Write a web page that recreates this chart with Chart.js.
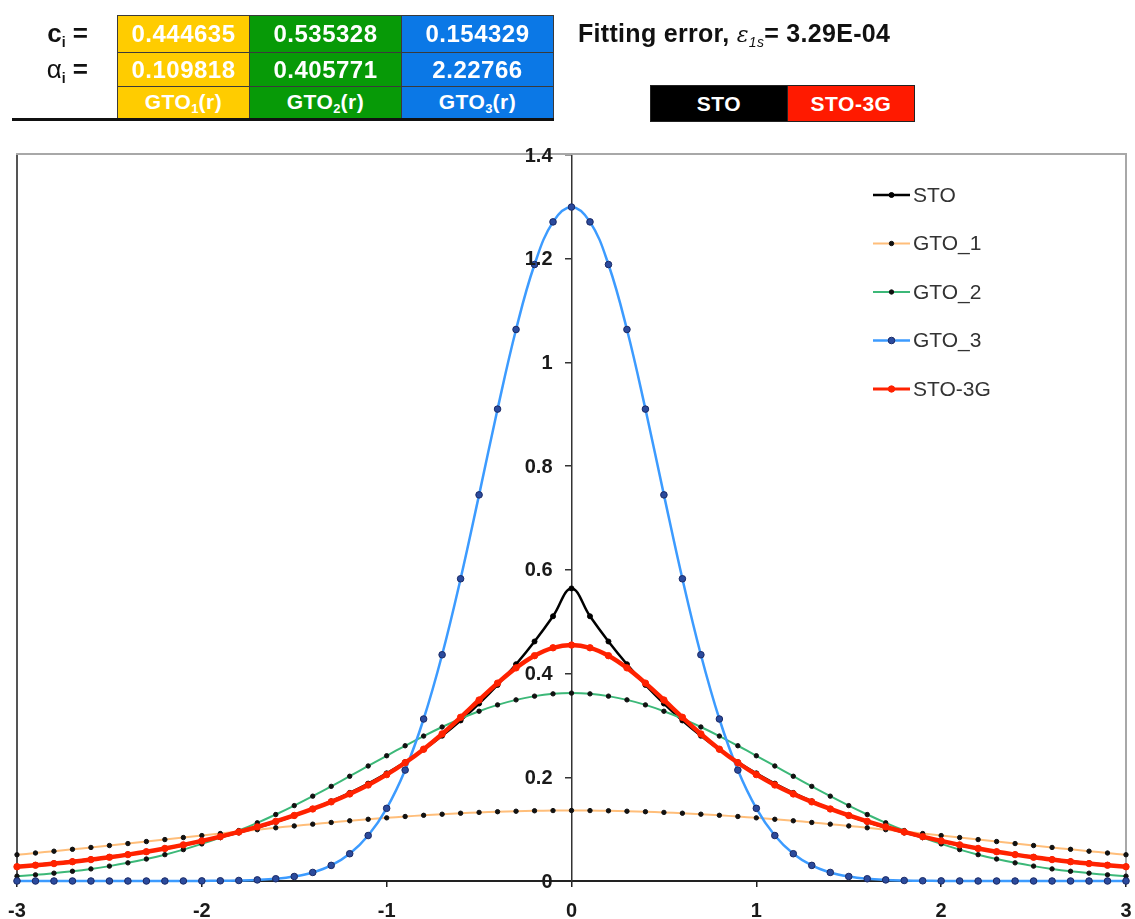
<!DOCTYPE html>
<html><head><meta charset="utf-8">
<script src="https://cdn.jsdelivr.net/npm/chart.js@4.4.1/dist/chart.umd.min.js"></script>
<style>
html,body{margin:0;padding:0;background:#fff;}
body{width:1135px;height:919px;position:relative;overflow:hidden;font-family:"Liberation Sans",Arial,sans-serif;}
#c{position:absolute;left:0;top:0;}
.hdr{position:absolute;z-index:2;}
.cell{position:absolute;z-index:2;color:#fff;font-weight:bold;font-size:24px;letter-spacing:0.5px;box-sizing:border-box;border:1px solid #3a3a3a;display:flex;align-items:center;justify-content:center;}
.cell sub{font-size:13px;vertical-align:-4px;letter-spacing:0;}
.lab{position:absolute;z-index:2;font-weight:bold;font-size:26px;color:#111;text-align:right;white-space:nowrap;}
.lab sub{font-size:14px;vertical-align:-5px;}
</style></head>
<body>
<canvas id="c" width="1135" height="919"></canvas>

<div class="lab" style="left:10px;top:15px;width:78px;height:37px;line-height:37px;">c<sub>i</sub> =</div>
<div class="lab" style="left:10px;top:52px;width:78px;height:34px;line-height:34px;"><span style="font-weight:normal">α</span><sub>i</sub> =</div>

<div class="cell" style="left:117px;top:15px;width:133px;height:38px;background:#FFCC00;"><span>0.444635</span></div>
<div class="cell" style="left:249px;top:15px;width:153px;height:38px;background:#079A07;"><span>0.535328</span></div>
<div class="cell" style="left:401px;top:15px;width:153px;height:38px;background:#0B78E6;"><span>0.154329</span></div>
<div class="cell" style="left:117px;top:52px;width:133px;height:35px;background:#FFCC00;"><span>0.109818</span></div>
<div class="cell" style="left:249px;top:52px;width:153px;height:35px;background:#079A07;"><span>0.405771</span></div>
<div class="cell" style="left:401px;top:52px;width:153px;height:35px;background:#0B78E6;"><span>2.22766</span></div>
<div class="cell" style="left:117px;top:86px;width:133px;height:34px;background:#FFCC00;font-size:21px;"><span>GTO<sub>1</sub>(r)</span></div>
<div class="cell" style="left:249px;top:86px;width:153px;height:34px;background:#079A07;font-size:21px;"><span>GTO<sub>2</sub>(r)</span></div>
<div class="cell" style="left:401px;top:86px;width:153px;height:34px;background:#0B78E6;font-size:21px;"><span>GTO<sub>3</sub>(r)</span></div>
<div class="hdr" style="left:12px;top:118px;width:542px;height:3px;background:#111;"></div>

<div class="hdr" style="left:578px;top:15px;height:37px;line-height:37px;font-weight:bold;font-size:25px;letter-spacing:0.3px;color:#111;white-space:nowrap;">Fitting error, <i style="font-weight:normal;font-family:'DejaVu Serif',serif;font-size:22px;">ε</i><sub style="font-size:14px;font-weight:normal;font-style:italic;vertical-align:-5px;">1s</sub>= 3.29E-04</div>

<div class="cell" style="left:650px;top:85px;width:138px;height:37px;background:#000;border-color:#222;font-size:21px;"><span>STO</span></div>
<div class="cell" style="left:787px;top:85px;width:128px;height:37px;background:#FF1A00;border-color:#222;font-size:21px;"><span>STO-3G</span></div>

<script>
// ---- data ----
const xs = [-3,-2.9,-2.8,-2.7,-2.6,-2.5,-2.4,-2.3,-2.2,-2.1,-2,-1.9,-1.8,-1.7,-1.6,-1.5,-1.4,-1.3,-1.2,-1.1,-1,-0.9,-0.8,-0.7,-0.6,-0.5,-0.4,-0.3,-0.2,-0.1,0,0.1,0.2,0.3,0.4,0.5,0.6,0.7,0.8,0.9,1,1.1,1.2,1.3,1.4,1.5,1.6,1.7,1.8,1.9,2,2.1,2.2,2.3,2.4,2.5,2.6,2.7,2.8,2.9,3];
const sto = [0.0281,0.0310,0.0343,0.0379,0.0419,0.0463,0.0512,0.0566,0.0625,0.0691,0.0764,0.0844,0.0933,0.1031,0.1139,0.1259,0.1391,0.1538,0.1699,0.1878,0.2076,0.2294,0.2535,0.2802,0.3096,0.3422,0.3782,0.4180,0.4619,0.5105,0.5642,0.5105,0.4619,0.4180,0.3782,0.3422,0.3096,0.2802,0.2535,0.2294,0.2076,0.1878,0.1699,0.1538,0.1391,0.1259,0.1139,0.1031,0.0933,0.0844,0.0764,0.0691,0.0625,0.0566,0.0512,0.0463,0.0419,0.0379,0.0343,0.0310,0.0281];
const gto1 = [0.0506,0.0540,0.0575,0.0611,0.0647,0.0684,0.0722,0.0761,0.0799,0.0838,0.0876,0.0915,0.0953,0.0990,0.1026,0.1062,0.1096,0.1129,0.1161,0.1190,0.1218,0.1244,0.1267,0.1288,0.1307,0.1323,0.1336,0.1346,0.1354,0.1358,0.1360,0.1358,0.1354,0.1346,0.1336,0.1323,0.1307,0.1288,0.1267,0.1244,0.1218,0.1190,0.1161,0.1129,0.1096,0.1062,0.1026,0.0990,0.0953,0.0915,0.0876,0.0838,0.0799,0.0761,0.0722,0.0684,0.0647,0.0611,0.0575,0.0540,0.0506];
const gto2 = [0.0094,0.0119,0.0151,0.0188,0.0233,0.0287,0.0350,0.0424,0.0508,0.0605,0.0715,0.0837,0.0973,0.1122,0.1282,0.1454,0.1636,0.1825,0.2020,0.2218,0.2415,0.2608,0.2795,0.2970,0.3131,0.3274,0.3396,0.3493,0.3565,0.3609,0.3623,0.3609,0.3565,0.3493,0.3396,0.3274,0.3131,0.2970,0.2795,0.2608,0.2415,0.2218,0.2020,0.1825,0.1636,0.1454,0.1282,0.1122,0.0973,0.0837,0.0715,0.0605,0.0508,0.0424,0.0350,0.0287,0.0233,0.0188,0.0151,0.0119,0.0094];
const gto3 = [0,0,0,0,0,0,0,0,0,0.0001,0.0002,0.0004,0.0010,0.0021,0.0043,0.0087,0.0165,0.0301,0.0526,0.0877,0.1401,0.2139,0.3124,0.4363,0.5828,0.7446,0.9100,1.0635,1.1888,1.2710,1.2996,1.2710,1.1888,1.0635,0.9100,0.7446,0.5828,0.4363,0.3124,0.2139,0.1401,0.0877,0.0526,0.0301,0.0165,0.0087,0.0043,0.0021,0.0010,0.0004,0.0002,0.0001,0,0,0,0,0,0,0,0,0];
const sto3g = [0.0275,0.0304,0.0336,0.0372,0.0413,0.0458,0.0509,0.0565,0.0628,0.0697,0.0773,0.0856,0.0946,0.1044,0.1150,0.1264,0.1389,0.1526,0.1679,0.1852,0.2051,0.2280,0.2542,0.2836,0.3157,0.3490,0.3816,0.4110,0.4345,0.4497,0.4550,0.4497,0.4345,0.4110,0.3816,0.3490,0.3157,0.2836,0.2542,0.2280,0.2051,0.1852,0.1679,0.1526,0.1389,0.1264,0.1150,0.1044,0.0946,0.0856,0.0773,0.0697,0.0628,0.0565,0.0509,0.0458,0.0413,0.0372,0.0336,0.0304,0.0275];
const seriesNames = ['STO','GTO_1','GTO_2','GTO_3','STO-3G'];
const xTicks = [-3,-2,-1,0,1,2,3];
const yTicks = [0,0.2,0.4,0.6,0.8,1,1.2,1.4];
const yTickLabels = ['0','0.2','0.4','0.6','0.8','1','1.2','1.4'];

// ---- styles ----
const seriesValues = [sto,gto1,gto2,gto3,sto3g];
const styles = [
  {line:'#000000', width:2.5, pt:'#000000', ptBorder:'#000000', r:2.5, order:5},
  {line:'#FFBE7A', width:2,   pt:'#111111', ptBorder:'#111111', r:2.2, order:4},
  {line:'#3CB878', width:2,   pt:'#111111', ptBorder:'#111111', r:2.2, order:3},
  {line:'#3C9BFF', width:2.5, pt:'#2B4A9C', ptBorder:'#1A2A66', r:3.3, order:2},
  {line:'#FF2200', width:4.5, pt:'#FF2200', ptBorder:'#FF2200', r:3.2, order:1}
];

Chart.defaults.font.family = '"Liberation Sans", Arial, sans-serif';

const datasets = seriesNames.map((name,i)=>({
  label: name,
  data: xs.map((x,j)=>({x:x, y:seriesValues[i][j]})),
  borderColor: styles[i].line,
  backgroundColor: styles[i].line,
  borderWidth: styles[i].width,
  pointRadius: styles[i].r,
  pointBackgroundColor: styles[i].pt,
  pointBorderColor: styles[i].ptBorder,
  pointBorderWidth: 1,
  tension: 0.4,
  order: styles[i].order,
  clip: false,
  fill: false
}));

const framePlugin = {
  id:'frame',
  beforeDatasetsDraw(chart){
    const {ctx, chartArea:a} = chart;
    ctx.save();
    ctx.lineWidth = 2;
    ctx.strokeStyle = '#a8a8a8';
    ctx.beginPath();
    ctx.moveTo(a.left, a.bottom); ctx.lineTo(a.left, a.top-1); ctx.lineTo(a.right, a.top-1); ctx.lineTo(a.right, a.bottom);
    ctx.stroke();
    ctx.strokeStyle = '#555';
    ctx.beginPath(); ctx.moveTo(a.left, a.bottom); ctx.lineTo(a.left, a.top); ctx.stroke();
    ctx.restore();
  }
};

// y labels: right-aligned to the left of the centred y axis
const yLabelPlugin = {
  id:'yLabels',
  afterDraw(chart){
    const ctx = chart.ctx, ys = chart.scales.y, xsc = chart.scales.x;
    const ax = xsc.getPixelForValue(0);
    ctx.save();
    ctx.fillStyle = '#1a1a1a';
    ctx.font = 'bold 20px "Liberation Sans", Arial, sans-serif';
    ctx.textAlign = 'right';
    ctx.textBaseline = 'middle';
    yTicks.forEach((v,i)=>{ ctx.fillText(yTickLabels[i], ax - 19, ys.getPixelForValue(v) + 1); });
    ctx.restore();
  }
};

const legendPlugin = {
  id:'customLegend',
  afterDraw(chart){
    const ctx = chart.ctx;
    const x0 = 873, x1 = 910, tx = 913, y0 = 195, dy = 48.5;
    ctx.save();
    chart.data.datasets.forEach((ds,i)=>{
      const y = y0 + i*dy;
      ctx.strokeStyle = ds.borderColor;
      ctx.lineWidth = Math.min(ds.borderWidth, 3);
      ctx.beginPath(); ctx.moveTo(x0,y); ctx.lineTo(x1,y); ctx.stroke();
      ctx.fillStyle = ds.pointBackgroundColor;
      ctx.strokeStyle = ds.pointBorderColor;
      ctx.lineWidth = 1;
      ctx.beginPath(); ctx.arc((x0+x1)/2, y, ds.pointRadius, 0, Math.PI*2); ctx.fill(); ctx.stroke();
      ctx.fillStyle = '#333';
      ctx.font = '21px "Liberation Sans", Arial, sans-serif';
      ctx.textBaseline = 'middle';
      ctx.textAlign = 'left';
      ctx.fillText(ds.label, tx, y+1);
    });
    ctx.restore();
  }
};

new Chart(document.getElementById('c'), {
  type:'line',
  data:{datasets},
  options:{
    responsive:false,
    animation:false,
    devicePixelRatio:1,
    layout:{padding:{top:155,left:17,right:9,bottom:0}},
    plugins:{legend:{display:false}, tooltip:{enabled:false}, title:{display:false}},
    scales:{
      x:{
        type:'linear', position:'bottom', min:-3, max:3,
        afterBuildTicks:(s)=>{ s.ticks = xTicks.map(v=>({value:v})); },
        afterFit:(s)=>{ s.height = 38; s.paddingLeft = 0; s.paddingRight = 0; },
        grid:{drawOnChartArea:false, drawTicks:true, tickLength:6, color:'#222', lineWidth:1.5},
        border:{display:true, color:'#222', width:2},
        ticks:{color:'#1a1a1a', font:{size:20, weight:'bold'}, padding:12, maxRotation:0,
               callback:(v)=>String(v)}
      },
      y:{
        type:'linear', position:{x:0}, min:0, max:1.4,
        afterBuildTicks:(s)=>{ s.ticks = yTicks.map(v=>({value:v})); },
        grid:{drawOnChartArea:false, drawTicks:true, tickLength:6, color:'#333', lineWidth:1.5},
        border:{display:true, color:'#333', width:1.5},
        ticks:{display:false}
      }
    }
  },
  plugins:[framePlugin, yLabelPlugin, legendPlugin]
});
</script>
</body></html>
